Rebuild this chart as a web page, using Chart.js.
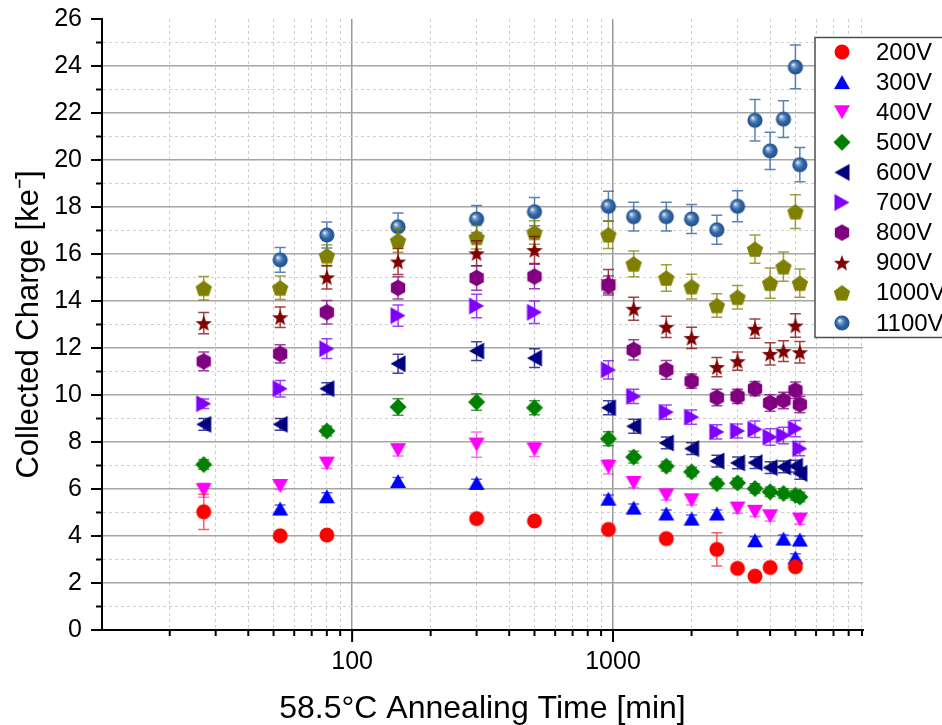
<!DOCTYPE html>
<html>
<head>
<meta charset="utf-8">
<script src="https://cdn.jsdelivr.net/npm/chart.js@4.4.1/dist/chart.umd.min.js"></script>
<style>
  html, body { margin: 0; padding: 0; background: #fff; }
</style>
</head>
<body>
<canvas id="chart" width="942" height="725"></canvas>
<script>
// annealing times [min] per bias voltage
const t200 = [27, 53, 80, 300, 500, 960, 1600, 2500, 3000, 3500, 4000, 5000];
const t300 = [53, 80, 150, 300, 960, 1200, 1600, 2000, 2500, 3500, 4500, 5000, 5200];
const t400 = [27, 53, 80, 150, 300, 500, 960, 1200, 1600, 2000, 3000, 3500, 4000, 5200];
const t500 = [27, 80, 150, 300, 500, 960, 1200, 1600, 2000, 2500, 3000, 3500, 4000, 4500, 5000, 5200];
const tFull = [27, 53, 80, 150, 300, 500, 960, 1200, 1600, 2000, 2500, 3000, 3500, 4000, 4500, 5000, 5200];
const t1100 = [53, 80, 150, 300, 500, 960, 1200, 1600, 2000, 2500, 3000, 3500, 4000, 4500, 5000, 5200];

// collected charge [ke-]
const q200 = [5.03, 4.01, 4.04, 4.74, 4.64, 4.28, 3.89, 3.43, 2.62, 2.29, 2.66, 2.69];
const q300 = [5.17, 5.69, 6.34, 6.26, 5.59, 5.21, 4.96, 4.74, 4.96, 3.82, 3.89, 3.09, 3.85];
const q400 = [5.95, 6.13, 7.08, 7.65, 7.89, 7.68, 6.94, 6.26, 5.73, 5.52, 5.17, 5.03, 4.84, 4.70];
const q500 = [7.04, 8.47, 9.49, 9.70, 9.46, 8.14, 7.36, 6.97, 6.73, 6.23, 6.26, 6.02, 5.88, 5.81, 5.73, 5.66];
const q600 = [8.75, 8.75, 10.27, 11.33, 11.87, 11.57, 9.46, 8.67, 7.96, 7.72, 7.19, 7.11, 7.12, 6.91, 6.94, 6.97, 6.66];
const q700 = [9.63, 10.27, 11.97, 13.38, 13.79, 13.52, 11.07, 9.94, 9.27, 9.06, 8.43, 8.47, 8.54, 8.21, 8.28, 8.57, 7.72];
const q800 = [11.43, 11.75, 13.52, 14.56, 14.98, 15.04, 14.66, 11.92, 11.07, 10.59, 9.89, 9.94, 10.27, 9.66, 9.77, 10.20, 9.60];
const q900 = [13.06, 13.31, 15.01, 15.68, 16.03, 16.17, 14.84, 13.67, 12.90, 12.43, 11.19, 11.44, 12.82, 11.75, 11.87, 12.96, 11.82];
const q1000 = [14.54, 14.56, 15.93, 16.57, 16.71, 16.92, 16.82, 15.58, 14.98, 14.61, 13.81, 14.16, 16.21, 14.76, 15.46, 17.80, 14.76];
const q1100 = [15.75, 16.81, 17.16, 17.49, 17.80, 18.03, 17.59, 17.59, 17.49, 17.03, 18.03, 21.69, 20.39, 21.74, 23.96, 19.80];

// error bars (half length)
const e200 = [0.75, 0.15, 0.15, 0.15, 0.15, 0.15, 0.15, 0.71, 0.15, 0.15, 0.15, 0.15];
const e300 = [0.15, 0.15, 0.15, 0.15, 0.15, 0.15, 0.15, 0.15, 0.15, 0.15, 0.15, 0.15, 0.15];
const e400 = [0.3, 0.15, 0.2, 0.25, 0.54, 0.3, 0.3, 0.2, 0.2, 0.2, 0.2, 0.2, 0.2, 0.2];
const e500 = [0.2, 0.2, 0.35, 0.35, 0.3, 0.3, 0.25, 0.2, 0.2, 0.2, 0.2, 0.2, 0.2, 0.2, 0.2, 0.2];
const e600 = [0.25, 0.25, 0.25, 0.4, 0.4, 0.4, 0.3, 0.3, 0.25, 0.25, 0.25, 0.25, 0.25, 0.25, 0.25, 0.25, 0.25];
const e700 = [0.2, 0.35, 0.42, 0.45, 0.5, 0.48, 0.39, 0.3, 0.3, 0.3, 0.3, 0.3, 0.35, 0.35, 0.35, 0.35, 0.3];
const e800 = [0.4, 0.39, 0.5, 0.47, 0.52, 0.52, 0.4, 0.43, 0.4, 0.3, 0.35, 0.3, 0.3, 0.35, 0.35, 0.35, 0.35];
const e900 = [0.45, 0.44, 0.5, 0.55, 0.53, 0.57, 0.5, 0.49, 0.45, 0.45, 0.41, 0.39, 0.41, 0.47, 0.44, 0.5, 0.46];
const e1000 = [0.5, 0.5, 0.45, 0.5, 0.5, 0.5, 0.59, 0.55, 0.56, 0.53, 0.5, 0.5, 0.6, 0.64, 0.62, 0.72, 0.6];
const e1100 = [0.53, 0.55, 0.58, 0.57, 0.6, 0.64, 0.61, 0.61, 0.62, 0.62, 0.66, 0.88, 0.79, 0.78, 0.93, 0.73];

// x axis ticks (log), only decades get a label
const xTicks = [20, 30, 40, 50, 60, 70, 80, 90, 100, 200, 300, 400, 500, 600, 700, 800, 900,
  1000, 2000, 3000, 4000, 5000, 6000, 7000, 8000, 9000];
const xLabelled = [100, 1000];

const FONT = '"Liberation Sans", Arial, sans-serif';

// =========================
// MARKERS
// =========================
function marker(draw) {
  const c = document.createElement('canvas');
  c.width = 22;
  c.height = 22;
  const g = c.getContext('2d');
  g.translate(11, 11);
  draw(g);
  return c;
}

function poly(g, pts, color) {
  g.beginPath();
  pts.forEach(([x, y], i) => (i ? g.lineTo(x, y) : g.moveTo(x, y)));
  g.closePath();
  g.fillStyle = color;
  g.fill();
}

function radial(n, r1, r2, start, dy) {
  const pts = [];
  for (let k = 0; k < n; k++) {
    const a = start + (k * 2 * Math.PI) / n;
    const r = r2 && k % 2 ? r2 : r1;
    pts.push([r * Math.cos(a), r * Math.sin(a) + dy]);
  }
  return pts;
}

const mCircle = marker(g => {
  g.beginPath();
  g.arc(0, 0, 7.5, 0, 2 * Math.PI);
  g.fillStyle = '#ff0000';
  g.fill();
});
const mUp = marker(g => poly(g, [[0, -7], [8, 7], [-8, 7]], '#0000ff'));
const mDown = marker(g => poly(g, [[0, 7], [8, -7], [-8, -7]], '#ff00ff'));
const mDiamond = marker(g => poly(g, [[0, -8.5], [8.5, 0], [0, 8.5], [-8.5, 0]], '#008000'));
const mLeft = marker(g => poly(g, [[-7.5, 0], [7.5, -8.5], [7.5, 8.5]], '#000080'));
const mRight = marker(g => poly(g, [[7.5, 0], [-7.5, -8.5], [-7.5, 8.5]], '#8000ff'));
const mHex = marker(g => poly(g, radial(6, 8.3, 0, -Math.PI / 2, 0), '#800080'));
const mStar = marker(g => poly(g, radial(10, 8.6, 3.6, -Math.PI / 2, 0.8), '#800000'));
const mPent = marker(g => poly(g, radial(5, 8.6, 0, -Math.PI / 2, 0.8), '#808000'));
const mSphere = marker(g => {
  const grd = g.createRadialGradient(-2.5, -2.5, 0.3, 0, 0, 7.8);
  grd.addColorStop(0, '#f2f6fb');
  grd.addColorStop(0.22, '#7fa5d2');
  grd.addColorStop(0.55, '#3468a8');
  grd.addColorStop(1, '#1f4d88');
  g.beginPath();
  g.arc(0, 0, 7.6, 0, 2 * Math.PI);
  g.fillStyle = grd;
  g.fill();
});

function series(label, t, q, e, style, errColor) {
  return {
    label,
    data: t.map((v, i) => ({ x: v, y: q[i] })),
    errors: e,
    errColor,
    pointStyle: style,
    pointRadius: 9,
    showLine: false
  };
}

// =========================
// PLUGINS
// =========================
const errorBars = {
  id: 'errorBars',
  beforeDatasetDraw(chart, args) {
    const { ctx, chartArea: a, scales: { x, y } } = chart;
    const ds = chart.data.datasets[args.index];
    ctx.save();
    ctx.beginPath();
    ctx.rect(a.left, a.top, a.width, a.height);
    ctx.clip();
    ctx.strokeStyle = ds.errColor;
    ctx.lineWidth = 1.5;
    ctx.beginPath();
    ds.data.forEach((p, i) => {
      const px = x.getPixelForValue(p.x);
      const y1 = y.getPixelForValue(p.y + ds.errors[i]);
      const y2 = y.getPixelForValue(p.y - ds.errors[i]);
      ctx.moveTo(px, y1);
      ctx.lineTo(px, y2);
      ctx.moveTo(px - 5.5, y1);
      ctx.lineTo(px + 5.5, y1);
      ctx.moveTo(px - 5.5, y2);
      ctx.lineTo(px + 5.5, y2);
    });
    ctx.stroke();
    ctx.restore();
  }
};

const tickMarks = {
  id: 'tickMarks',
  afterDraw(chart) {
    const { ctx, chartArea: a, scales: { x, y } } = chart;
    ctx.save();
    ctx.strokeStyle = '#000';
    ctx.lineWidth = 2;
    ctx.beginPath();
    y.ticks.forEach(t => {
      const py = y.getPixelForValue(t.value);
      const len = t.value % 2 === 0 ? 11 : 6;
      ctx.moveTo(a.left - len, py);
      ctx.lineTo(a.left, py);
    });
    x.ticks.forEach(t => {
      const px = x.getPixelForValue(t.value);
      const len = xLabelled.includes(t.value) ? 12 : 6;
      ctx.moveTo(px, a.bottom);
      ctx.lineTo(px, a.bottom + len);
    });
    ctx.stroke();
    ctx.restore();
  }
};

const boxLegend = {
  id: 'boxLegend',
  afterDraw(chart) {
    const ctx = chart.ctx;
    ctx.save();
    ctx.fillStyle = '#fff';
    ctx.fillRect(815, 37.5, 150, 300);
    ctx.strokeStyle = '#4d4d4d';
    ctx.lineWidth = 1.5;
    ctx.strokeRect(815, 37.5, 150, 300);
    ctx.font = '24px ' + FONT;
    ctx.textBaseline = 'middle';
    ctx.fillStyle = '#000';
    chart.data.datasets.forEach((ds, i) => {
      const cy = 52 + 30.1 * i;
      ctx.drawImage(ds.pointStyle, 842 - 11, cy - 11);
      ctx.fillText(ds.label, 876, cy + 1);
    });
    ctx.restore();
  }
};

// =========================
// CHART
// =========================
const isMajorY = v => v % 2 === 0;
const isMajorX = v => xLabelled.includes(v);

new Chart(document.getElementById('chart'), {
  type: 'scatter',
  data: {
    datasets: [
      series('200V', t200, q200, e200, mCircle, 'rgba(255,40,40,0.75)'),
      series('300V', t300, q300, e300, mUp, 'rgba(40,40,255,0.75)'),
      series('400V', t400, q400, e400, mDown, 'rgba(255,60,255,0.75)'),
      series('500V', t500, q500, e500, mDiamond, 'rgba(0,128,0,0.75)'),
      series('600V', tFull, q600, e600, mLeft, 'rgba(0,0,128,0.75)'),
      series('700V', tFull, q700, e700, mRight, 'rgba(128,0,255,0.75)'),
      series('800V', tFull, q800, e800, mHex, 'rgba(128,0,128,0.75)'),
      series('900V', tFull, q900, e900, mStar, 'rgba(128,0,0,0.75)'),
      series('1000V', tFull, q1000, e1000, mPent, 'rgba(128,128,0,0.75)'),
      series('1100V', t1100, q1100, e1100, mSphere, 'rgba(47,100,165,0.8)')
    ]
  },
  options: {
    responsive: false,
    animation: false,
    events: [],
    layout: { padding: { top: 19, right: 79, left: 0, bottom: 0 } },
    plugins: {
      legend: { display: false },
      tooltip: { enabled: false }
    },
    scales: {
      x: {
        type: 'logarithmic',
        min: 11,
        max: 9080,
        afterBuildTicks: s => {
          s.ticks = xTicks.map(v => ({ value: v, major: isMajorX(v) }));
        },
        afterFit: s => {
          s.height = 95;
          s.paddingLeft = 0;
          s.paddingRight = 0;
        },
        ticks: {
          autoSkip: false,
          maxRotation: 0,
          padding: 17,
          color: '#000',
          font: { family: FONT, size: 25 },
          callback: v => (isMajorX(v) ? String(v) : '')
        },
        grid: {
          drawTicks: false,
          color: c => (c.tick && isMajorX(c.tick.value) ? '#9a9a9a' : '#cfcfcf'),
          lineWidth: c => (c.tick && isMajorX(c.tick.value) ? 1.5 : 1)
        },
        border: {
          color: '#000',
          width: 2,
          dash: c => (c.tick && !isMajorX(c.tick.value) ? [3, 3] : [])
        },
        title: {
          display: true,
          text: '58.5°C Annealing Time [min]',
          color: '#000',
          font: { family: FONT, size: 32, lineHeight: 1 },
          padding: { top: 0, bottom: 0 }
        }
      },
      y: {
        min: 0,
        max: 26,
        afterFit: s => {
          s.width = 102;
          s.paddingTop = 0;
          s.paddingBottom = 0;
        },
        ticks: {
          stepSize: 1,
          autoSkip: false,
          padding: 20,
          color: '#000',
          font: { family: FONT, size: 25 },
          callback: v => (isMajorY(v) ? String(v) : '')
        },
        grid: {
          drawTicks: false,
          color: c => {
            if (!c.tick || c.tick.value === 26 || c.tick.value === 0) return 'rgba(0,0,0,0)';
            return isMajorY(c.tick.value) ? '#a6a6a6' : '#cfcfcf';
          },
          lineWidth: c => (c.tick && isMajorY(c.tick.value) ? 1.5 : 1)
        },
        border: {
          color: '#000',
          width: 2,
          dash: c => (c.tick && !isMajorY(c.tick.value) ? [3, 3] : [])
        },
        title: {
          display: true,
          text: 'Collected Charge [ke⁻]',
          color: '#000',
          font: { family: FONT, size: 31, lineHeight: 1 },
          padding: { top: 14, bottom: 0 }
        }
      }
    }
  },
  plugins: [errorBars, tickMarks, boxLegend]
});
</script>
</body>
</html>
